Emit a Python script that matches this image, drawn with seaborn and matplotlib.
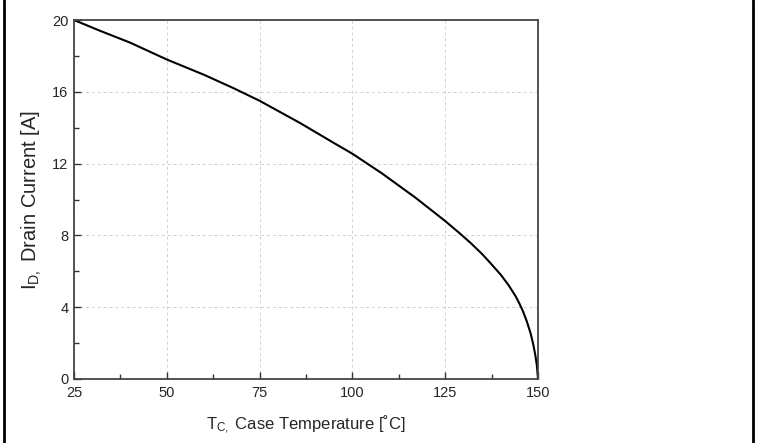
import matplotlib
matplotlib.use("Agg")
import matplotlib.pyplot as plt
from matplotlib.lines import Line2D
from matplotlib.ticker import MultipleLocator
import seaborn as sns
import pandas as pd

# Data
case_temp = [25, 32, 40, 50, 60, 68, 75, 86, 95, 100, 108, 117, 125, 129, 132, 135, 137, 140,
             142, 144, 145, 146, 147, 148, 148.7, 149.3, 149.7, 150]
drain_current = [20, 19.4, 18.75, 17.8, 16.95, 16.2, 15.5, 14.25, 13.15, 12.55, 11.45, 10.1, 8.8, 8.1,
                 7.55, 6.95, 6.5, 5.8, 5.25, 4.6, 4.2, 3.75, 3.2, 2.55, 1.95, 1.3, 0.75, 0]
x_ticks = [25, 50, 75, 100, 125, 150]
y_ticks = [0, 4, 8, 12, 16, 20]

sns.set_theme(style="white")
fams = ['Liberation Sans', 'DejaVu Sans']
plt.rcParams['font.family'] = fams
plt.rcParams['mathtext.fontset'] = 'custom'
plt.rcParams['mathtext.rm'] = 'Liberation Sans'
plt.rcParams['mathtext.it'] = 'Liberation Sans:italic'

df = pd.DataFrame({"T": case_temp, "I": drain_current})

fig = plt.figure(figsize=(7.59, 4.43), dpi=100)
ax = fig.add_axes([74/759, 1-379/443, (538-74)/759, (379-20)/443])

sns.lineplot(data=df, x="T", y="I", ax=ax, color="black", linewidth=1.5, sort=False)

ax.set_xlim(25, 150)
ax.set_ylim(0, 20)
ax.set_xticks(x_ticks)
ax.set_yticks(y_ticks)
ax.xaxis.set_minor_locator(MultipleLocator(12.5))
ax.yaxis.set_minor_locator(MultipleLocator(2))
ax.tick_params(axis='both', which='major', direction='in', length=5, width=1.0,
               color='#333333', labelsize=10.5, bottom=True, left=True, top=False, right=False)
ax.tick_params(axis='x', which='major', pad=5)
ax.tick_params(axis='y', which='major', pad=4)
ax.tick_params(axis='both', which='minor', direction='in', length=3.5, width=1.0,
               color='#333333', bottom=True, left=True, top=False, right=False)
ax.grid(True, which='major', linestyle=(0, (3, 3)), color='#d0d0d0', linewidth=0.7)
for s in ax.spines.values():
    s.set_visible(True)
    s.set_color('#444444')
    s.set_linewidth(1.3)

ax.set_xlabel("T$_{\\mathregular{C,}}$ Case Temperature [˚C]", fontsize=12, labelpad=10)
ax.set_ylabel("I$_{\\mathregular{D,}}$ Drain Current [A]", fontsize=14.5, labelpad=6)

# figure side border lines
fig.add_artist(Line2D([4/759, 4/759], [0, 1], transform=fig.transFigure, color='black', linewidth=2))
fig.add_artist(Line2D([753/759, 753/759], [0, 1], transform=fig.transFigure, color='black', linewidth=2))

fig.savefig("out.png", dpi=100, facecolor='white')
